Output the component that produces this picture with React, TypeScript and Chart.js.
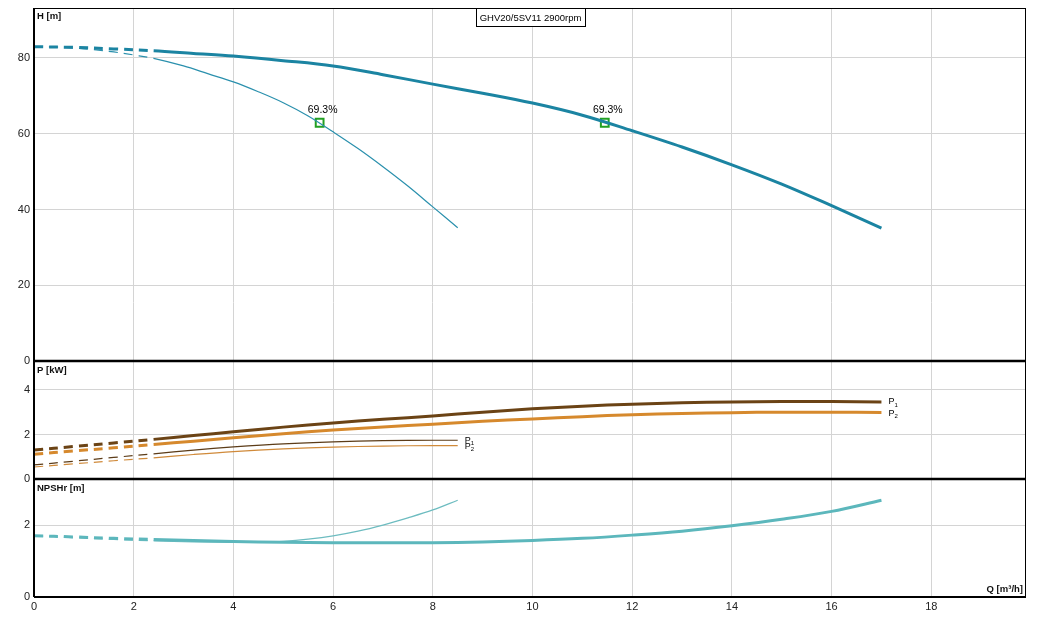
import React, { useEffect, useRef } from "react";
import Chart from "chart.js/auto";

// Pump performance chart: H / P / NPSHr panels sharing one Q axis

const DASH_END = 2.4;

// x ticks and y tick labels per panel
const qTicks = [0, 2, 4, 6, 8, 10, 12, 14, 16, 18];
const hTicks = [0, 20, 40, 60, 80];
const pTicks = [0, 2, 4];
const nTicks = [0, 2];

// H curve, full impeller
const hQ = [0, 0.8, 1.6, 2.4, 3.2, 4, 5, 6, 7, 8, 9, 10, 11, 12, 13, 14, 15, 16, 17];
const hVal = [83.0, 82.8, 82.4, 81.9, 81.2, 80.5, 79.3, 77.9, 75.6, 73.1, 70.7, 68.1, 64.9, 60.8, 56.5, 51.8, 46.7, 41.0, 35.1];

// H curve, reduced
const hQ2 = [0, 0.4, 0.8, 1.2, 1.6, 2.0, 2.4, 3, 3.5, 4, 4.5, 5, 5.5, 6, 6.5, 7, 7.5, 8, 8.5];
const hVal2 = [83.0, 82.9, 82.6, 82.2, 81.6, 80.8, 79.9, 77.9, 75.8, 73.7, 71.1, 68.2, 64.7, 60.5, 56.1, 51.3, 46.2, 40.7, 35.2];

// best efficiency markers
const bepQ = [5.73, 11.45];
const bepH = [62.9, 62.9];
const bepLabel = ["69.3%", "69.3%"];

// power curves
const pQ = [0, 0.8, 1.6, 2.4, 3.2, 4, 5, 6, 7, 8, 9, 10, 11, 12, 13, 14, 15, 16, 17];
const p1Val = [1.3, 1.46, 1.62, 1.78, 1.95, 2.12, 2.33, 2.52, 2.68, 2.83, 3.0, 3.15, 3.27, 3.36, 3.42, 3.46, 3.48, 3.48, 3.46];
const p2Val = [1.11, 1.26, 1.4, 1.55, 1.7, 1.85, 2.03, 2.2, 2.34, 2.46, 2.59, 2.7, 2.8, 2.89, 2.94, 2.98, 3.0, 3.0, 2.99];

const pQ2 = [0, 0.8, 1.6, 2.4, 3.2, 4, 5, 6, 7, 8, 8.5];
const p1Val2 = [0.63, 0.8, 0.97, 1.13, 1.3, 1.44, 1.58, 1.67, 1.72, 1.74, 1.74];
const p2Val2 = [0.54, 0.68, 0.82, 0.95, 1.1, 1.23, 1.35, 1.43, 1.48, 1.5, 1.5];

// NPSHr curves
const nQ = [0, 0.8, 1.6, 2.4, 3.2, 4, 5, 6, 7, 8, 9, 10, 11, 12, 13, 14, 15, 16, 17];
const nVal = [1.7, 1.67, 1.63, 1.6, 1.57, 1.54, 1.52, 1.51, 1.51, 1.51, 1.53, 1.57, 1.63, 1.72, 1.83, 1.98, 2.16, 2.38, 2.69];

const nQ2 = [0, 0.8, 1.6, 2.4, 3.2, 4, 4.5, 5, 5.5, 6, 6.5, 7, 7.5, 8, 8.5];
const nVal2 = [1.7, 1.65, 1.6, 1.56, 1.53, 1.52, 1.52, 1.55, 1.61, 1.7, 1.83, 2.0, 2.2, 2.42, 2.69];

const TITLE = "GHV20/5SV11 2900rpm";
const FONT = "'Liberation Sans', Arial, sans-serif";

const toXY = (xs: number[], ys: number[]) => xs.map((x, i) => ({ x, y: ys[i] }));

const dashed = {
  borderDash: (ctx: any) => (ctx.p1.parsed.x <= DASH_END + 0.01 ? [9, 6] : undefined),
};

function curve(label: string, xs: number[], ys: number[], axis: string, color: string, width: number) {
  return {
    label,
    data: toXY(xs, ys),
    yAxisID: axis,
    borderColor: color,
    backgroundColor: color,
    borderWidth: width,
    pointRadius: 0,
    fill: false,
    tension: 0.35,
    segment: dashed,
  };
}

export default function App() {
  const canvasRef = useRef<HTMLCanvasElement>(null);
  const chartRef = useRef<Chart | null>(null);

  useEffect(() => {
    if (!canvasRef.current) return;
    const ctx = canvasRef.current.getContext("2d");
    if (!ctx) return;

    // plugin: frame, panel separators, axis titles, labels
    const decorPlugin = {
      id: "decor",
      afterDraw(chart: any) {
        const c = chart.ctx as CanvasRenderingContext2D;
        const { left, right, top, bottom } = chart.chartArea;
        const yH = chart.scales.yH;
        const yP = chart.scales.yP;
        const yN = chart.scales.yN;
        const x = chart.scales.x;
        c.save();

        // frame
        c.strokeStyle = "#000";
        c.lineWidth = 1;
        c.strokeRect(left + 0.5, top + 0.5, right - left - 1, bottom - top);
        c.lineWidth = 2;
        c.beginPath();
        c.moveTo(left, top);
        c.lineTo(left, bottom);
        c.moveTo(left, bottom);
        c.lineTo(right, bottom);
        c.stroke();
        c.lineWidth = 2.5;
        c.beginPath();
        c.moveTo(left, yH.bottom);
        c.lineTo(right, yH.bottom);
        c.moveTo(left, yP.bottom);
        c.lineTo(right, yP.bottom);
        c.stroke();

        // axis titles
        c.fillStyle = "#111";
        c.font = `bold 9.5px ${FONT}`;
        c.textBaseline = "top";
        c.textAlign = "left";
        c.fillText("H [m]", left + 3, yH.top + 4);
        c.fillText("P [kW]", left + 3, yP.top + 5);
        c.fillText("NPSHr [m]", left + 3, yN.top + 5);
        c.textAlign = "right";
        c.textBaseline = "bottom";
        c.fillText("Q [m\u00b3/h]", right - 3, bottom - 3);

        // efficiency labels
        c.font = `10.5px ${FONT}`;
        c.textAlign = "center";
        c.textBaseline = "bottom";
        c.fillStyle = "#000";
        bepQ.forEach((q, i) => {
          c.fillText(bepLabel[i], x.getPixelForValue(q) + 3, yH.getPixelForValue(bepH[i]) - 7);
        });

        // P1 / P2 labels at curve ends
        const pLabel = (sub: string, q: number, v: number) => {
          const px = x.getPixelForValue(q) + 7;
          const py = yP.getPixelForValue(v);
          c.textAlign = "left";
          c.textBaseline = "middle";
          c.font = `9px ${FONT}`;
          c.fillText("P", px, py);
          c.font = `6px ${FONT}`;
          c.fillText(sub, px + 6, py + 3);
        };
        pLabel("1", pQ[pQ.length - 1], p1Val[p1Val.length - 1]);
        pLabel("2", pQ[pQ.length - 1], p2Val[p2Val.length - 1] - 0.05);
        pLabel("1", pQ2[pQ2.length - 1], p1Val2[p1Val2.length - 1]);
        pLabel("2", pQ2[pQ2.length - 1], p2Val2[p2Val2.length - 1] - 0.05);

        // title box
        const cx = 530.5;
        const bw = 109;
        c.fillStyle = "#fff";
        c.fillRect(cx - bw / 2, top, bw, 18);
        c.strokeStyle = "#000";
        c.lineWidth = 1;
        c.strokeRect(Math.round(cx - bw / 2) + 0.5, top + 0.5, bw, 18);
        c.font = `9.5px ${FONT}`;
        c.fillStyle = "#000";
        c.textAlign = "center";
        c.textBaseline = "middle";
        c.fillText(TITLE, cx, top + 10);

        c.restore();
      },
    };

    // fixed axis width, and no extra label padding on top/bottom
    const fixWidth = (scale: any) => {
      scale.width = 34;
      scale.paddingTop = 0;
      scale.paddingBottom = 0;
    };
    const tickList = (vals: number[]) => (scale: any) => {
      scale.ticks = vals.map((v) => ({ value: v }));
    };
    const yScale = (min: number, max: number, ticks: number[], weight: number, stackWeight: number) => ({
      type: "linear" as const,
      position: "left" as const,
      stack: "panels",
      stackWeight,
      weight,
      min,
      max,
      afterFit: fixWidth,
      afterBuildTicks: tickList(ticks),
      border: { display: false },
      grid: { color: "#d4d4d4", drawTicks: false },
      ticks: { color: "#222", padding: 4, font: { size: 11, family: FONT } },
    });

    if (chartRef.current) {
      chartRef.current.destroy();
      chartRef.current = null;
    }

    chartRef.current = new Chart(ctx, {
      type: "line",
      data: {
        datasets: [
          curve("H", hQ, hVal, "yH", "#1b84a2", 3),
          curve("H reduced", hQ2, hVal2, "yH", "#2a90ad", 1.2),
          curve("P1", pQ, p1Val, "yP", "#6b4315", 3),
          curve("P2", pQ, p2Val, "yP", "#d6892d", 3),
          curve("P1 reduced", pQ2, p1Val2, "yP", "#5c3c18", 1.2),
          curve("P2 reduced", pQ2, p2Val2, "yP", "#d08a3a", 1.2),
          curve("NPSHr", nQ, nVal, "yN", "#5cb7bc", 3),
          curve("NPSHr reduced", nQ2, nVal2, "yN", "#6dbcc0", 1.2),
          {
            label: "BEP",
            data: toXY(bepQ, bepH),
            yAxisID: "yH",
            showLine: false,
            pointStyle: "rect",
            pointRadius: 5.5,
            borderColor: "#22a022",
            borderWidth: 2,
            backgroundColor: "rgba(0,0,0,0)",
          },
        ],
      },
      options: {
        animation: false,
        responsive: true,
        maintainAspectRatio: false,
        layout: { padding: { top: 8, right: 12, left: 0, bottom: 0 } },
        plugins: {
          legend: { display: false },
          tooltip: { enabled: false },
        },
        scales: {
          x: {
            type: "linear",
            position: "bottom",
            min: 0,
            max: 19.9,
            afterFit: (scale: any) => {
              scale.height = 27;
            },
            afterBuildTicks: tickList(qTicks),
            border: { display: false },
            grid: { color: "#d4d4d4", drawTicks: false },
            ticks: { color: "#222", padding: 3, font: { size: 11, family: FONT } },
          },
          yH: yScale(0, 93.2, hTicks, 3, 353),
          yP: yScale(0, 5.3, pTicks, 2, 118),
          yN: yScale(0, 3.28, nTicks, 1, 118),
        },
      },
      plugins: [decorPlugin],
    });

    return () => {
      if (chartRef.current) {
        chartRef.current.destroy();
        chartRef.current = null;
      }
    };
  }, []);

  return (
    <div style={{ position: "fixed", left: 0, top: 0, width: 1038, height: 624, background: "#fff" }}>
      <canvas ref={canvasRef} aria-label="Pump curve GHV20/5SV11" />
    </div>
  );
}
